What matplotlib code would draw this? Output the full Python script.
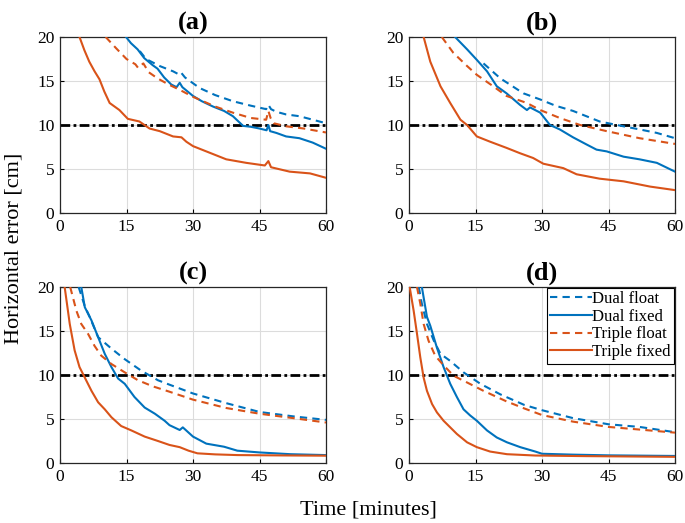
import matplotlib
matplotlib.use("Agg")
import matplotlib.pyplot as plt

plt.rcParams['font.family'] = ['Liberation Serif', 'DejaVu Serif']

BLUE = '#0072BD'
ORANGE = '#D95319'

titles = ['(a)', '(b)', '(c)', '(d)']
series_labels = ['Dual float', 'Dual fixed', 'Triple float', 'Triple fixed']
xticks = [0, 15, 30, 45, 60]
yticks = [0, 5, 10, 15, 20]
threshold = 10

# ---- panel (a) ----
a_t_dual_float = [18.0, 19.4, 22.5, 25.5, 27.0, 27.4, 28.2, 31.5, 35.0, 39.0, 43.0, 46.5, 47.0, 47.6, 48.8, 51.0, 54.0, 57.0, 60.0]
a_dual_float = [18.4, 17.5, 16.7, 16.1, 15.7, 15.9, 15.4, 14.2, 13.4, 12.7, 12.2, 11.8, 12.3, 11.8, 11.5, 11.2, 11.0, 10.6, 10.2]
a_t_dual_fixed = [14.9, 16.0, 17.5, 19.0, 20.9, 22.0, 23.5, 25.1, 26.3, 27.0, 27.6, 30.0, 32.0, 34.5, 37.0, 39.0, 41.3, 43.0, 45.0, 46.6, 47.0, 47.4, 48.8, 51.0, 54.0, 57.0, 60.0]
a_dual_fixed = [20.0, 19.3, 18.6, 17.6, 16.8, 16.4, 15.4, 14.6, 14.3, 14.8, 14.3, 13.3, 12.7, 12.1, 11.6, 11.0, 9.9, 9.8, 9.6, 9.4, 10.0, 9.3, 9.1, 8.7, 8.5, 8.0, 7.3]
a_t_triple_float = [10.3, 12.7, 15.0, 17.0, 17.6, 18.8, 20.0, 22.0, 24.5, 27.0, 30.0, 35.0, 39.0, 43.0, 46.5, 47.0, 47.5, 48.2, 51.0, 55.0, 60.0]
a_triple_float = [20.0, 18.7, 17.5, 16.9, 16.5, 17.0, 16.0, 15.3, 14.6, 14.0, 13.2, 12.1, 11.4, 10.8, 10.6, 11.6, 10.8, 10.2, 9.85, 9.6, 9.15]
a_t_triple_fixed = [4.4, 5.5, 6.6, 7.8, 8.9, 10.0, 11.2, 13.4, 15.3, 17.9, 20.2, 22.5, 25.5, 27.4, 28.5, 30.0, 33.0, 37.5, 42.0, 46.2, 47.0, 47.6, 51.8, 56.4, 60.0]
a_triple_fixed = [20.0, 18.5, 17.2, 16.1, 15.2, 13.8, 12.5, 11.7, 10.7, 10.4, 9.6, 9.3, 8.7, 8.6, 8.1, 7.6, 7.0, 6.1, 5.7, 5.4, 5.9, 5.2, 4.7, 4.5, 4.0]

# ---- panel (b) ----
b_t_dual_float = [16.8, 20.6, 25.8, 29.6, 33.0, 37.0, 40.0, 43.0, 48.4, 52.0, 55.9, 60.0]
b_dual_float = [17.0, 15.3, 13.6, 12.9, 12.2, 11.6, 11.0, 10.4, 9.85, 9.5, 9.1, 8.5]
b_t_dual_fixed = [10.4, 13.1, 15.3, 17.6, 19.8, 22.0, 25.0, 26.6, 27.3, 29.6, 31.8, 34.0, 37.0, 40.0, 42.3, 44.6, 48.4, 52.0, 55.9, 60.0]
b_dual_fixed = [20.0, 18.6, 17.4, 16.1, 14.4, 13.6, 12.3, 11.7, 12.0, 11.4, 10.0, 9.5, 8.6, 7.8, 7.2, 7.0, 6.4, 6.1, 5.7, 4.7]
b_t_triple_float = [7.4, 10.0, 13.1, 15.3, 19.0, 22.0, 26.6, 29.6, 34.0, 38.6, 44.6, 52.0, 60.0]
b_triple_float = [20.0, 18.2, 16.7, 15.7, 14.4, 13.3, 12.5, 11.7, 10.8, 10.0, 9.3, 8.5, 7.85]
b_t_triple_fixed = [3.3, 4.8, 7.1, 9.3, 11.6, 13.1, 15.3, 18.3, 22.0, 25.0, 28.0, 30.3, 34.8, 37.8, 43.0, 48.4, 54.4, 60.0]
b_triple_fixed = [20.0, 17.2, 14.4, 12.5, 10.6, 10.0, 8.7, 8.1, 7.4, 6.8, 6.25, 5.6, 5.1, 4.4, 3.9, 3.6, 3.0, 2.6]

# ---- panel (c) ----
c_t_dual_float = [4.2, 5.6, 6.7, 8.6, 11.6, 14.6, 18.3, 22.1, 24.7, 30.0, 37.5, 45.0, 52.6, 60.0]
c_dual_float = [20.0, 17.8, 16.6, 14.3, 13.0, 11.8, 10.5, 9.4, 8.9, 7.9, 6.8, 5.8, 5.3, 4.9]
c_t_dual_fixed = [4.8, 5.6, 7.1, 8.6, 10.1, 11.6, 13.1, 14.6, 16.8, 19.1, 21.4, 23.6, 24.7, 27.0, 27.7, 30.0, 33.0, 37.0, 40.0, 45.0, 52.0, 60.0]
c_dual_fixed = [20.0, 17.7, 16.2, 14.3, 12.4, 10.9, 9.6, 9.0, 7.5, 6.3, 5.6, 4.8, 4.3, 3.75, 4.05, 3.0, 2.2, 1.85, 1.4, 1.2, 1.0, 0.9]
c_t_triple_float = [2.3, 3.7, 4.8, 6.3, 7.8, 9.3, 11.6, 14.6, 17.6, 21.0, 24.7, 30.0, 37.5, 45.0, 52.6, 60.0]
c_triple_float = [20.0, 17.3, 15.8, 14.7, 13.3, 12.2, 11.25, 10.3, 9.4, 8.7, 8.1, 7.2, 6.25, 5.6, 5.1, 4.6]
c_t_triple_fixed = [1.05, 2.2, 3.3, 4.4, 5.6, 7.1, 8.6, 10.1, 11.6, 13.8, 16.1, 19.1, 22.1, 24.7, 27.0, 29.0, 31.0, 35.0, 40.0, 50.0, 60.0]
c_triple_fixed = [20.0, 15.8, 12.8, 10.9, 9.7, 8.2, 6.9, 6.1, 5.2, 4.2, 3.7, 3.0, 2.5, 2.05, 1.8, 1.4, 1.1, 0.98, 0.9, 0.86, 0.83]

# ---- panel (d) ----
d_t_dual_float = [2.2, 2.9, 4.05, 5.6, 7.1, 9.3, 12.3, 16.1, 20.6, 26.0, 30.0, 37.0, 45.0, 52.0, 60.0]
d_dual_float = [20.0, 18.1, 15.8, 13.9, 12.4, 11.6, 10.3, 9.0, 7.8, 6.6, 6.0, 5.1, 4.4, 4.1, 3.5]
d_t_dual_fixed = [2.9, 4.05, 4.8, 6.3, 7.8, 9.3, 10.8, 12.3, 13.8, 15.3, 17.6, 19.8, 22.1, 25.1, 28.5, 30.0, 37.0, 45.0, 60.0]
d_dual_fixed = [20.0, 16.6, 15.6, 13.1, 10.9, 9.0, 7.5, 6.1, 5.4, 4.8, 3.7, 2.9, 2.35, 1.8, 1.3, 1.05, 0.95, 0.87, 0.8]
d_t_triple_float = [1.8, 2.55, 3.3, 4.4, 5.9, 7.8, 10.1, 13.1, 16.8, 22.0, 26.0, 30.0, 37.0, 45.0, 52.0, 60.0]
d_triple_float = [20.0, 18.1, 15.8, 13.9, 12.2, 11.1, 9.9, 9.15, 8.2, 7.0, 6.2, 5.45, 4.7, 4.1, 3.8, 3.45]
d_t_triple_fixed = [0.15, 1.05, 1.8, 2.55, 3.3, 4.05, 5.2, 6.3, 7.8, 9.3, 10.8, 13.1, 15.3, 18.3, 22.1, 28.5, 40.0, 60.0]
d_triple_fixed = [20.0, 17.3, 14.7, 12.0, 9.7, 8.2, 6.7, 5.75, 4.8, 4.05, 3.3, 2.35, 1.8, 1.3, 1.0, 0.85, 0.78, 0.7]

panels = [
    [(a_t_dual_float, a_dual_float), (a_t_dual_fixed, a_dual_fixed),
     (a_t_triple_float, a_triple_float), (a_t_triple_fixed, a_triple_fixed)],
    [(b_t_dual_float, b_dual_float), (b_t_dual_fixed, b_dual_fixed),
     (b_t_triple_float, b_triple_float), (b_t_triple_fixed, b_triple_fixed)],
    [(c_t_dual_float, c_dual_float), (c_t_dual_fixed, c_dual_fixed),
     (c_t_triple_float, c_triple_float), (c_t_triple_fixed, c_triple_fixed)],
    [(d_t_dual_float, d_dual_float), (d_t_dual_fixed, d_dual_fixed),
     (d_t_triple_float, d_triple_float), (d_t_triple_fixed, d_triple_fixed)],
]
styles = [(BLUE, (0, (3.5, 2.5))), (BLUE, '-'), (ORANGE, (0, (3.5, 2.5))), (ORANGE, '-')]

W, H = 685, 523
fig = plt.figure(figsize=(W / 100, H / 100), dpi=100)

boxes = [(60, 37), (409, 37), (60, 287), (409, 287)]
aw, ah = 266, 176

for i, (px, py) in enumerate(boxes):
    ax = fig.add_axes([px / W, 1 - (py + ah) / H, aw / W, ah / H])
    ax.axhline(threshold, color='black', lw=2, linestyle=(0, (3.5, 1.2, 1.0, 1.2)), zorder=2)
    for (t, v), (col, ls), lab in zip(panels[i], styles, series_labels):
        ax.plot(t, v, color=col, lw=1.5, linestyle=ls, label=lab, zorder=3)
    ax.set_xlim(0, 60)
    ax.set_ylim(0, 20)
    ax.set_xticks(xticks)
    ax.set_yticks(yticks)
    ax.tick_params(direction='in', length=3, labelsize=12.5, width=0.8, pad=4)
    ax.grid(True, color='#DCDCDC', lw=0.8)
    ax.set_axisbelow(True)
    for s in ax.spines.values():
        s.set_color('#262626')
        s.set_linewidth(0.9)
    ax.set_title(titles[i], fontsize=19, fontweight='bold', pad=5)
    if i == 3:
        leg = ax.legend(loc='upper right', fontsize=12, frameon=True, fancybox=False,
                        edgecolor='black', framealpha=1, borderaxespad=0.05,
                        handlelength=2.5, handletextpad=0.05, labelspacing=0.1,
                        borderpad=0.2)
        leg.get_frame().set_linewidth(0.8)

fig.text(368 / W, 1 - 515 / H, 'Time [minutes]', fontsize=16, ha='center', va='baseline')
fig.text(14 / W, 1 - 248 / H, 'Horizontal error [cm]', fontsize=16, ha='center', va='center', rotation=90)

fig.savefig('out.png', dpi=100)
